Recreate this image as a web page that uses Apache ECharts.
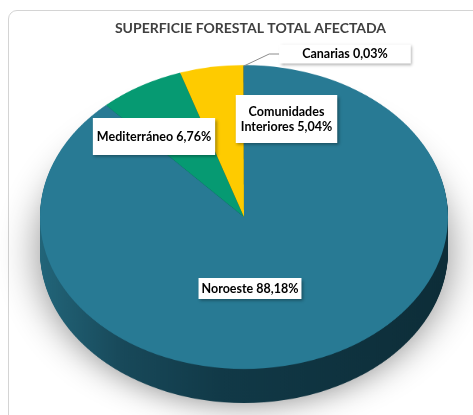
<!DOCTYPE html>
<html><head><meta charset="utf-8">
<script src="https://cdn.jsdelivr.net/npm/echarts@6/dist/echarts.min.js"></script>
<style>
html,body{margin:0;padding:0;width:473px;height:415px;overflow:hidden;background:#fff;}
#card{position:absolute;left:8px;top:10px;width:480px;height:420px;border:1px solid #d4d4d4;border-radius:9px;box-sizing:border-box;}
#pie{position:absolute;left:0;top:0;width:473px;height:620px;transform:scaleY(0.745);transform-origin:0 0;}
#over{position:absolute;left:0;top:0;width:473px;height:415px;}
</style></head>
<body>
<div id="card"></div>
<div id="pie"></div>
<div id="over"></div>
<script>
// ---- data ----
const title = 'SUPERFICIE FORESTAL TOTAL AFECTADA';
const categories = ['Noroeste', 'Mediterráneo', 'Comunidades Interiores', 'Canarias'];
const values = [88.18, 6.76, 5.04, 0.03];

// ---- styles ----
const colors = ['#287a94', '#069a72', '#fecb00', '#2c7590'];
const SCALE = 0.745;
const CX = 244, CY = 217 / SCALE, R = 204;
const DEPTH = 34 / SCALE;

const pieChart = echarts.init(document.getElementById('pie'), null, {renderer: 'canvas'});
const sideGrad = {
  type: 'linear', x: 40, y: 0, x2: 448, y2: 0, global: true,
  colorStops: [
    {offset: 0, color: '#226579'},
    {offset: 0.2, color: '#18495a'},
    {offset: 0.45, color: '#113947'},
    {offset: 1, color: '#0d2d38'}
  ]
};
const series = [];
const steps = Math.ceil(DEPTH);
for (let k = steps; k >= 1; k--) {
  series.push({
    type: 'pie', silent: true, animation: false,
    center: [CX, CY + k * DEPTH / steps], radius: R,
    label: {show: false}, labelLine: {show: false},
    itemStyle: k === steps ? {color: sideGrad, shadowBlur: 40, shadowColor: 'rgba(0,0,0,0.45)', shadowOffsetY: 2} : {color: sideGrad},
    data: [{name: 'side', value: 1}]
  });
}
series.push({
  type: 'pie', silent: true, animation: false,
  center: [CX, CY], radius: R, startAngle: 90, clockwise: true,
  label: {show: false}, labelLine: {show: false},
  data: categories.map((c, i) => ({name: c, value: values[i], itemStyle: {color: colors[i]}}))
});
pieChart.setOption({series});

// ---- labels overlay ----
const labelPos = [[250, 288.5], [154, 136.5], [286.5, 119], [345, 54]];
const labelPad = [[3, 3], [11, 4], [9, 5], [2, 23]];
const over = echarts.init(document.getElementById('over'));
function fmt(v) { return v.toFixed(2).replace('.', ',') + '%'; }
over.setOption({
  title: {
    text: title, left: 245.5, top: 16, textAlign: 'center',
    textStyle: {fontFamily: 'Lato', fontWeight: 'bold', fontSize: 14, color: '#404040'}
  },
  series: [{
    type: 'pie', silent: true, animation: false,
    center: [CX, 217], radius: 151, startAngle: 90, clockwise: true,
    avoidLabelOverlap: false,
    itemStyle: {color: 'rgba(0,0,0,0)'},
    label: {
      show: true, position: 'outside',
      formatter: p => (p.name.indexOf(' ') > 0 ? p.name.replace(' ', '\n') : p.name) + ' ' + fmt(p.value),
      fontFamily: 'Lato', fontWeight: 'bold', fontSize: 12.5, color: '#000', lineHeight: 15,
      backgroundColor: '#fff', align: 'center',
      shadowColor: 'rgba(0,0,0,0.35)', shadowBlur: 3, shadowOffsetX: 1.5, shadowOffsetY: 1.5
    },
    labelLine: {show: false, lineStyle: {color: '#8c8c8c', width: 1}, length: 10, length2: 10},
    labelLayout: p => ({x: labelPos[p.dataIndex][0], y: labelPos[p.dataIndex][1], align: 'center', verticalAlign: 'middle'}),
    data: categories.map((c, i) => ({
      name: c, value: values[i],
      label: {padding: labelPad[i]},
      labelLine: {show: i === 3}
    }))
  }]
});
</script>
</body></html>
